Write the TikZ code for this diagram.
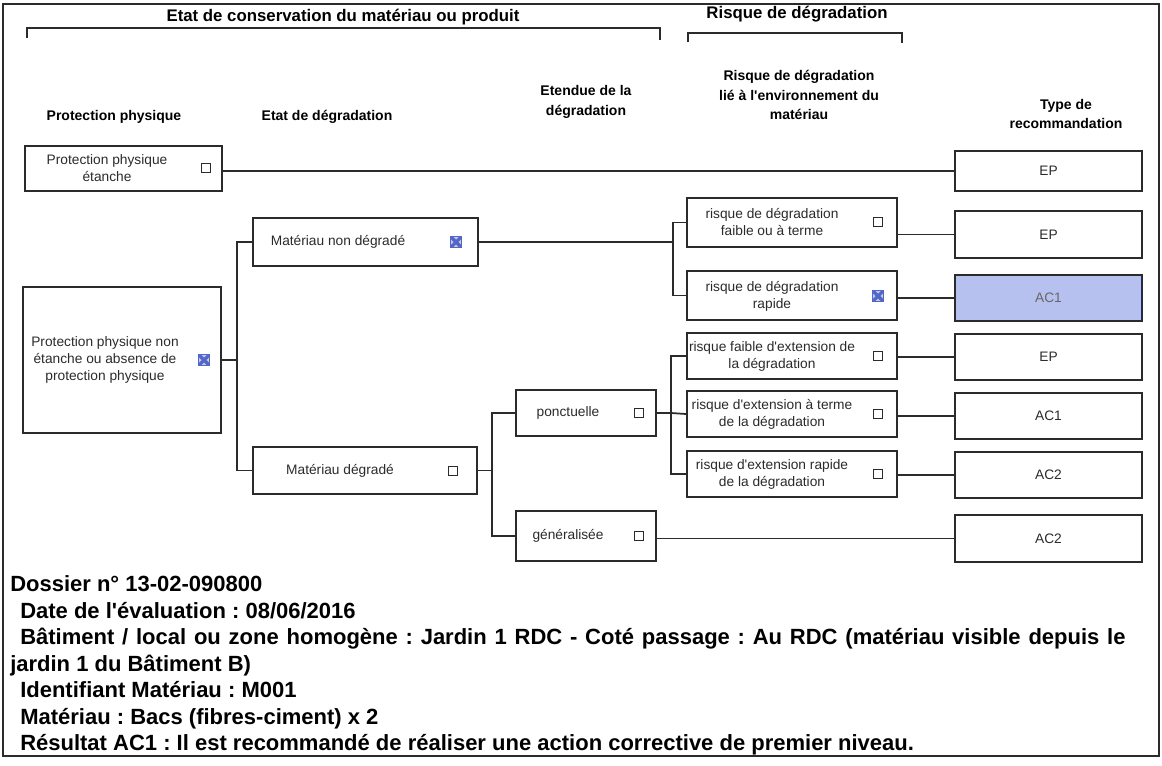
\documentclass[tikz,border=0pt]{standalone}
\usepackage{fontspec}
\setmainfont{Liberation Sans}[Ligatures=TeXOff]
\usetikzlibrary{fit}
\definecolor{ink}{HTML}{2B2B2B}
\definecolor{xblue}{HTML}{5466C6}
\definecolor{selfill}{HTML}{B7C1F0}
\frenchspacing
\begin{document}
\begin{tikzpicture}[x=0.75pt,y=-0.75pt,
  box/.style={draw=ink, line width=1.5pt, inner sep=0pt},
  selbox/.style={box, fill=selfill},
  conn/.style={draw=ink, line width=1.3pt},
  framebox/.style={draw=ink, line width=1.1pt},
  txt/.style={font=\fontsize{10.3}{12.75}\selectfont, text=ink, align=center, inner sep=0pt},
  hdr/.style={font=\fontsize{10.5}{14.6}\selectfont\bfseries, text=black, align=center, inner sep=0pt},
  brk/.style={font=\fontsize{12.6}{14.6}\selectfont\bfseries, text=black, align=center, inner sep=0pt},
  foot/.style={font=\fontsize{16.5}{20}\selectfont\bfseries, text=black, anchor=base west, inner sep=0pt},
  chk/.style={draw=ink, line width=0.9pt, minimum size=7pt, inner sep=0pt},
  chkx/.style={draw=xblue, fill=xblue!35, line width=0.9pt, minimum size=8.5pt, inner sep=0pt,
    path picture={\draw[xblue, line width=2.4pt]
      (path picture bounding box.north west) -- (path picture bounding box.south east)
      (path picture bounding box.north east) -- (path picture bounding box.south west);}}
]
\useasboundingbox (0,0) rectangle (1162,765);
\fill[white] (0,0) rectangle (1162,765);
% outer frame
\draw[framebox] (3,4) rectangle (1159,756);

% brackets
\node[brk] (t1) at (343,17) {Etat de conservation du matériau ou produit};
\draw[conn] (27,38) -- (27,28) -- (660,28) -- (660,40);
\node[brk] (t2) at (797,14) {Risque de dégradation};
\draw[conn] (688,42) -- (688,33) -- (902,33) -- (902,43);

% column headers
\node[hdr] (h1) at (114,117) {Protection physique};
\node[hdr] (h2) at (327,117) {Etat de dégradation};
\node[hdr] (h3) at (586,102) {Etendue de la\\dégradation};
\node[hdr] (h4) at (799,95) {Risque de dégradation\\lié à l'environnement du\\matériau};
\node[hdr] (h5) at (1066,114) {Type de\\recommandation};

% boxes
\node[box, fit={(25,146) (222,191)}] (b1) {};
\node[box, fit={(23,287) (221,433)}] (b2) {};
\node[box, fit={(253,218) (478,266)}] (mnd) {};
\node[box, fit={(253,447) (477,494)}] (md) {};
\node[box, fit={(516,390) (656,436)}] (pon) {};
\node[box, fit={(516,511) (656,561)}] (gen) {};
\node[box, fit={(687,198) (897,247)}] (r1) {};
\node[box, fit={(687,271) (897,320)}] (r2) {};
\node[box, fit={(687,333) (897,379)}] (r3) {};
\node[box, fit={(687,391) (897,437)}] (r4) {};
\node[box, fit={(687,451) (897,497)}] (r5) {};
\node[box, fit={(955,151) (1142,191)}] (ep1) {};
\node[box, fit={(955,211) (1142,258)}] (ep2) {};
\node[selbox, fit={(955,275) (1142,321)}] (ac1s) {};
\node[box, fit={(955,334) (1142,380)}] (ep3) {};
\node[box, fit={(955,393) (1142,439)}] (ac1) {};
\node[box, fit={(955,452) (1142,498)}] (ac2) {};
\node[box, fit={(955,515) (1142,562)}] (ac2b) {};

% box texts
\node[txt] (b1t) at (107,168) {Protection physique\\étanche};
\node[txt] (b2t) at (105,360) {Protection physique non\\étanche ou absence de\\protection physique};
\node[txt] (mndt) at (338,242) {Matériau non dégradé};
\node[txt] (mdt) at (340,471) {Matériau dégradé};
\node[txt] (pont) at (568,413) {ponctuelle};
\node[txt] (gent) at (568,536) {généralisée};
\node[txt] (r1t) at (772,222) {risque de dégradation\\faible ou à terme};
\node[txt] (r2t) at (772,296) {risque de dégradation\\rapide};
\node[txt] (r3t) at (772,356) {risque faible d'extension de\\la dégradation};
\node[txt] (r4t) at (772,414) {risque d'extension à terme\\de la dégradation};
\node[txt] (r5t) at (772,474) {risque d'extension rapide\\de la dégradation};
\node[txt] (ep1t) at (ep1) {EP};
\node[txt] (ep2t) at (ep2) {EP};
\node[txt, text=black!60] (ac1st) at (ac1s) {AC1};
\node[txt] (ep3t) at (ep3) {EP};
\node[txt] (ac1t) at (ac1) {AC1};
\node[txt] (ac2t) at (ac2) {AC2};
\node[txt] (ac2bt) at (ac2b) {AC2};

% checkboxes
\node[chk] (c1) at (206,168) {};
\node[chkx] (c2) at (204,360) {};
\node[chkx] (c3) at (456,242) {};
\node[chk] (c4) at (453,471) {};
\node[chk] (c5) at (639,413) {};
\node[chk] (c6) at (639,536) {};
\node[chk] (c7) at (878,222) {};
\node[chkx] (c8) at (878,296) {};
\node[chk] (c9) at (878,356) {};
\node[chk] (c10) at (878,414) {};
\node[chk] (c11) at (878,474) {};

% junctions
\coordinate (j1) at (237,360);
\coordinate (j2) at (673,242);
\coordinate (j3) at (492,470.5);
\coordinate (j4) at (671,413);

% connectors
\draw[conn] (b1.east |- ep1.west) -- (ep1.west);
\draw[conn] (b2.east) -- (j1) |- (mnd.west);
\draw[conn] (j1) |- (md.west);
\draw[conn] (mnd.east) -- (j2) |- (r1.west);
\draw[conn] (j2) |- (r2.west);
\draw[conn] (md.east) -- (j3) |- (pon.west);
\draw[conn] (j3) |- (gen.west);
\draw[conn] (pon.east) -- (j4) -- (r4.west);
\draw[conn] (j4) |- (r3.west);
\draw[conn] (j4) |- (r5.west);
\draw[conn] (r1.east |- ep2.west) -- (ep2.west);
\draw[conn] (r2.east |- ac1s.west) -- (ac1s.west);
\draw[conn] (r3.east |- ep3.west) -- (ep3.west);
\draw[conn] (r4.east |- ac1.west) -- (ac1.west);
\draw[conn] (r5.east |- ac2.west) -- (ac2.west);
\draw[conn] (gen.east |- ac2b.west) -- (ac2b.west);

% footer text
\node[foot] (d1) at (10,591) {Dossier n° 13-02-090800};
\node[foot] (d2) at (20,618) {Date de l'évaluation : 08/06/2016};
\node[foot] (d3) at (20,644) {\makebox[829pt][s]{Bâtiment / local ou zone homogène : Jardin 1 RDC - Coté passage : Au RDC (matériau visible depuis le}};
\node[foot] (d4) at (10,671) {jardin 1 du Bâtiment B)};
\node[foot] (d5) at (20,697) {Identifiant Matériau : M001};
\node[foot] (d6) at (20,724) {Matériau : Bacs (fibres-ciment) x 2};
\node[foot] (d7) at (20,750) {Résultat AC1 : Il est recommandé de réaliser une action corrective de premier niveau.};
\end{tikzpicture}
\end{document}
